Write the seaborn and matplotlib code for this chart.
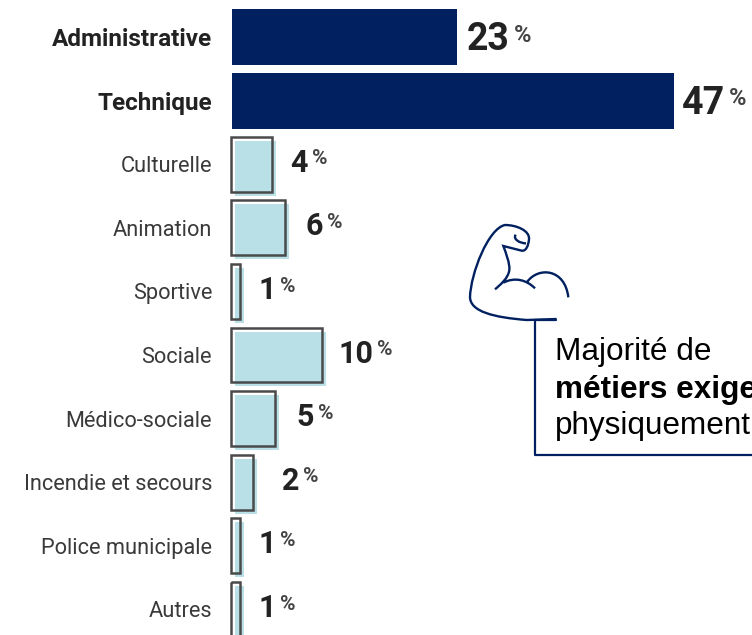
import pandas as pd
import matplotlib
matplotlib.use('Agg')
import matplotlib.pyplot as plt
import seaborn as sns
from matplotlib.path import Path
from matplotlib.patches import PathPatch
from matplotlib.transforms import Affine2D, ScaledTranslation
from matplotlib.lines import Line2D

# Values
categories = ['Administrative', 'Technique', 'Culturelle', 'Animation', 'Sportive',
              'Sociale', 'Médico-sociale', 'Incendie et secours', 'Police municipale', 'Autres']
bar_lengths = [23.9, 47.0, 4.4, 5.7, 1.0, 9.7, 4.7, 2.3, 1.0, 1.0]
labels = ['23', '47', '4', '6', '1', '10', '5', '2', '1', '1']
groups = ['dark', 'dark', 'light', 'light', 'light', 'light', 'light', 'light', 'light', 'light']

NAVY = '#002060'
LIGHT = '#B9DFE7'
EDGE = '#4A4A4A'
TEXT = '#3A3A3A'
narrow = 'Roboto'

sns.set_theme(style='white')
plt.rcParams['font.family'] = ['Liberation Sans', 'DejaVu Sans']

df = pd.DataFrame({'metier': categories, 'valeur': bar_lengths, 'groupe': groups})
dark = df[df['groupe'] == 'dark']
light = df[df['groupe'] == 'light']

fig = plt.figure(figsize=(7.52, 6.35), dpi=100)
ax = fig.add_axes([232 / 752, 0, 520 / 752, 1])

# dark bars
sns.barplot(data=dark, y='metier', x='valeur', order=categories, color=NAVY,
            saturation=1, width=0.88, edgecolor='none', ax=ax)
n_dark = len(ax.patches)

# light blue shadow bars, shifted right and down
sns.barplot(data=light, y='metier', x='valeur', order=categories, color=LIGHT,
            saturation=1, width=0.86, edgecolor='none', ax=ax)
shift = ScaledTranslation(3 / 100, -4 / 100, fig.dpi_scale_trans)
for p in ax.patches[n_dark:]:
    p.set_transform(ax.transData + shift)
n_shadow = len(ax.patches)

# outlines on top
sns.barplot(data=light, y='metier', x='valeur', order=categories, fill=False,
            color=EDGE, linewidth=1.8, width=0.86, ax=ax)
nudge = ScaledTranslation(-1 / 100, 0, fig.dpi_scale_trans)
for p in ax.patches[n_shadow:]:
    p.set_edgecolor(EDGE)
    p.set_facecolor('none')
    p.set_clip_on(False)
    p.set_transform(ax.transData + nudge)

ax.set_xlim(0, 520 / 9.4)
ax.set_ylim((635 - 37) / 63.6, -37 / 63.6)
ax.set_xlabel('')
ax.set_ylabel('')
ax.set_xticks([])
sns.despine(ax=ax, left=True, bottom=True)
ax.tick_params(axis='y', length=0, pad=14.4)
ax.set_yticks(range(len(categories)))
ax.set_yticklabels(categories, family=narrow, fontsize=15.7, color=TEXT)
for i, t in enumerate(ax.get_yticklabels()):
    if groups[i] == 'dark':
        t.set_fontweight('bold')
        t.set_fontsize(17.5)
        t.set_color('#222222')

# value labels, gap between bar end and number in pixels
gaps = [10, 8, 17, 20, 17, 15, 20, 28, 17, 17]
for i, (val, lab) in enumerate(zip(bar_lengths, labels)):
    big = groups[i] == 'dark'
    num = ax.annotate(lab, xy=(val, i), xytext=(gaps[i] * 0.72, -2 if big else 1),
                      textcoords='offset points', va='center', ha='left',
                      family=narrow, fontweight='bold', color='#222222',
                      fontsize=27 if big else 22, annotation_clip=False)
    ax.annotate('%', xy=(1, 1), xycoords=num, xytext=(3, -10 if big else -8),
                textcoords='offset points', va='center', ha='left',
                family=narrow, fontweight='bold', color='#444444',
                fontsize=17 if big else 15)

# overlay in picture pixels for the callout and the arm icon
px = Affine2D().scale(1 / 752, -1 / 635).translate(0, 1) + fig.transFigure

fig.add_artist(Line2D([556, 535, 535, 752], [320, 320, 455, 455], color=NAVY, lw=1.6,
                      transform=px))

fig.text(555, 360, 'Majorité de', transform=px, fontsize=22.7, color='black', va='baseline')
fig.text(555, 398, 'métiers exige', transform=px, fontsize=22.7, color='black',
         fontweight='bold', va='baseline')
fig.text(555, 434, 'physiquement', transform=px, fontsize=22.7, color='black', va='baseline')

# arm icon, coordinates from the zoomed crop
zoom = Affine2D().scale(1 / 3).translate(450, 210) + px
M, L, C = Path.MOVETO, Path.LINETO, Path.CURVE4
arm = [
    (M, (320, 327)), (L, (230, 330)),
    (C, (130, 322)), (C, (62, 305)), (C, (60, 262)),
    (C, (62, 190)), (C, (115, 55)), (C, (165, 45)),
    (C, (200, 45)), (C, (240, 62)), (C, (237, 88)),
    (C, (235, 108)), (C, (228, 124)), (C, (215, 122)),
    (L, (160, 108)),
    (C, (168, 130)), (C, (180, 160)), (C, (178, 180)),
    (C, (175, 205)), (C, (150, 225)), (C, (135, 238)),
    (M, (160, 218)), (C, (195, 200)), (C, (230, 210)), (C, (255, 235)),
    (M, (232, 215)), (C, (265, 170)), (C, (345, 175)), (C, (355, 262)),
    (M, (197, 74)), (C, (188, 88)), (C, (210, 100)), (C, (228, 100)),
]
fig.add_artist(PathPatch(Path([a[1] for a in arm], [a[0] for a in arm]), fill=False,
                         edgecolor=NAVY, lw=1.7, transform=zoom))

fig.savefig('out.png', dpi=100)
